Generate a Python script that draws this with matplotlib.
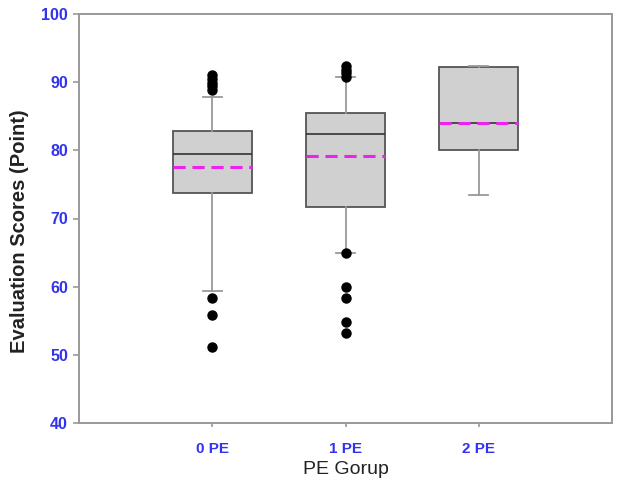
"""
Box plot of evaluation scores by PE group
"""
import matplotlib
matplotlib.use('Agg')
import matplotlib.pyplot as plt

# Data
groups = ['0 PE', '1 PE', '2 PE']
q1 = [73.7, 71.7, 80.0]
medians = [79.5, 82.4, 84.0]
q3 = [82.8, 85.5, 92.2]
whisker_low = [59.4, 64.9, 73.4]
whisker_high = [87.8, 90.8, 92.4]
means = [77.5, 79.2, 84.0]
outliers = [
    [51.2, 55.9, 58.3, 88.9, 89.4, 89.9, 90.4, 91.0],
    [53.2, 54.8, 58.3, 59.9, 64.9, 90.8, 91.3, 91.8, 92.3],
    [],
]

plt.rcParams['font.family'] = ['Liberation Sans', 'DejaVu Sans']

fig = plt.figure(figsize=(6.2, 4.8), dpi=100)
# axes frame: x 79..612 px, y 14..423 px
ax = fig.add_axes([79 / 620, 57 / 480, 533 / 620, 409 / 480])

stats = []
for i, name in enumerate(groups):
    stats.append({
        'label': name,
        'q1': q1[i], 'med': medians[i], 'q3': q3[i],
        'whislo': whisker_low[i], 'whishi': whisker_high[i],
        'mean': means[i], 'fliers': outliers[i],
    })

positions = [1, 2, 3]
ax.bxp(
    stats, positions=positions, widths=0.59, patch_artist=True,
    showmeans=True, meanline=True,
    boxprops=dict(facecolor='#d0d0d0', edgecolor='#555555', linewidth=1.3),
    medianprops=dict(color='#333333', linewidth=1.2),
    meanprops=dict(color='#ee22ee', linestyle=(0, (4, 2.2)), linewidth=2.2),
    whiskerprops=dict(color='#999999', linewidth=1.3),
    capprops=dict(color='#999999', linewidth=1.3),
    capwidths=0.14,
    flierprops=dict(marker='o', markerfacecolor='black', markeredgecolor='black',
                    markersize=6.5),
)

ax.set_xlim(0, 4)
ax.set_ylim(40, 100)
ax.set_yticks([40, 50, 60, 70, 80, 90, 100])
ax.set_xticks(positions)
ax.set_xticklabels(groups)

for spine in ax.spines.values():
    spine.set_color('#999999')
    spine.set_linewidth(1.4)

ax.tick_params(axis='both', colors='#999999', width=1.2,
               labelcolor='#3333ee', labelsize=11.5)
ax.tick_params(axis='y', length=4, pad=4)
ax.tick_params(axis='x', length=3, pad=11, labelsize=11)
for lab in ax.get_xticklabels() + ax.get_yticklabels():
    lab.set_fontweight('bold')

ax.set_ylabel('Evaluation Scores (Point)', fontsize=14.5, fontweight='bold',
              color='#222222')
ax.yaxis.set_label_coords(-50 / 533, (423 - 231) / 409)
ax.set_xlabel('PE Gorup', fontsize=14, color='#222222', va='bottom')
ax.xaxis.set_label_coords(0.5, -55 / 409)

plt.savefig('out.png', dpi=100)
